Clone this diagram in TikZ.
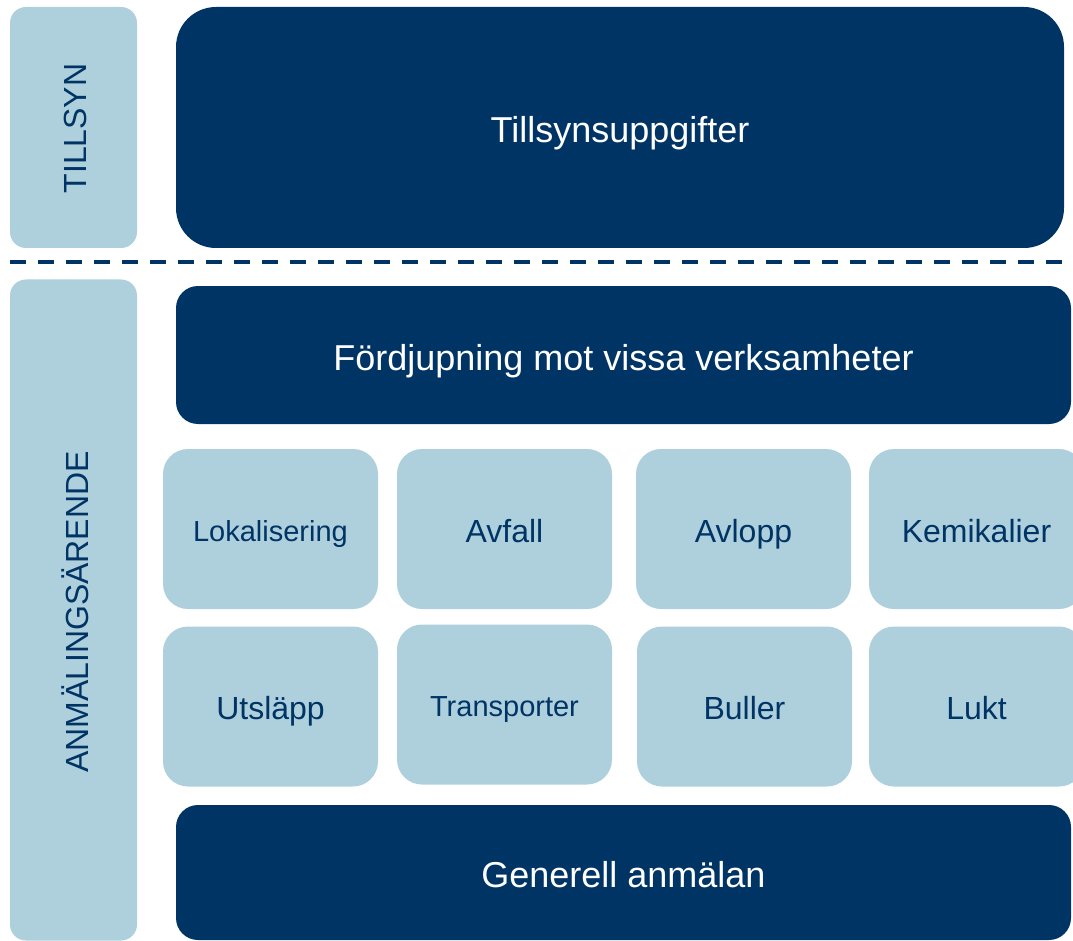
\documentclass[tikz,border=0pt]{standalone}
\usepackage{fontspec}
\setmainfont{Liberation Sans}
\definecolor{navy}{RGB}{0,52,101}
\definecolor{lightblue}{RGB}{174,207,220}
\tikzset{
  darkbox/.style={fill=navy, draw=none, text=white, inner sep=0pt, font=\fontsize{36}{40}\selectfont, text height=38pt, text depth=7.6pt},
  sidebox/.style={fill=lightblue, draw=none, inner sep=0pt, rounded corners=16pt, minimum width=127pt},
  sidetext/.style={rotate=90, text=navy, inner sep=0pt, font=\fontsize{32}{36}\selectfont},
  smallbox/.style={fill=lightblue, draw=none, text=navy, inner sep=0pt, rounded corners=25pt, minimum width=215pt, minimum height=160pt, font=\fontsize{32}{36}\selectfont, text height=33pt, text depth=6.8pt},
  smallfont/.style={font=\fontsize{29}{33}\selectfont, text height=31pt, text depth=6.1pt},
  sep/.style={navy, line width=4pt, dash pattern=on 16pt off 12pt}
}
\begin{document}
\begin{tikzpicture}[x=1pt,y=-1pt]
\useasboundingbox (0,0) rectangle (1073,941);
\clip (0,0) rectangle (1073,941);
% side boxes
\node[sidebox, minimum height=241pt] (tillsyn) at (73.5,127.5) {};
\node[sidetext] (tillsyntext) at (75,128.5) {TILLSYN};
\node[sidebox, minimum height=661pt] (anm) at (73.5,610) {};
\node[sidetext] (anmtext) at (75,612) {ANMÄLINGSÄRENDE};
% top
\node[darkbox, rounded corners=40pt, minimum width=888pt, minimum height=241pt] (uppg) at (620,127.5) {Tillsynsuppgifter};
% separator
\coordinate (sepL) at (10,262);
\coordinate (sepR) at (1062,262);
\draw[sep] (sepL) -- (sepR);
% Fördjupning
\node[darkbox, rounded corners=22pt, minimum width=895pt, minimum height=138pt] (ford) at (623.5,355) {Fördjupning mot vissa verksamheter};
% row 1
\node[smallbox, smallfont] (lok) at (270.5,529) {Lokalisering};
\node[smallbox] (avf) at (504.5,529) {Avfall};
\node[smallbox] (avl) at (743.5,529) {Avlopp};
\node[smallbox] (kem) at (976.5,529) {Kemikalier};
% row 2
\node[smallbox] (uts) at (270.5,706.5) {Utsläpp};
\node[smallbox, smallfont] (tra) at (504.5,704.5) {Transporter};
\node[smallbox] (bul) at (744.5,706.5) {Buller};
\node[smallbox] (luk) at (976.5,706.5) {Lukt};
% bottom
\node[darkbox, rounded corners=22pt, minimum width=895pt, minimum height=135pt] (gen) at (623.5,872.5) {Generell anmälan};
\end{tikzpicture}
\end{document}
